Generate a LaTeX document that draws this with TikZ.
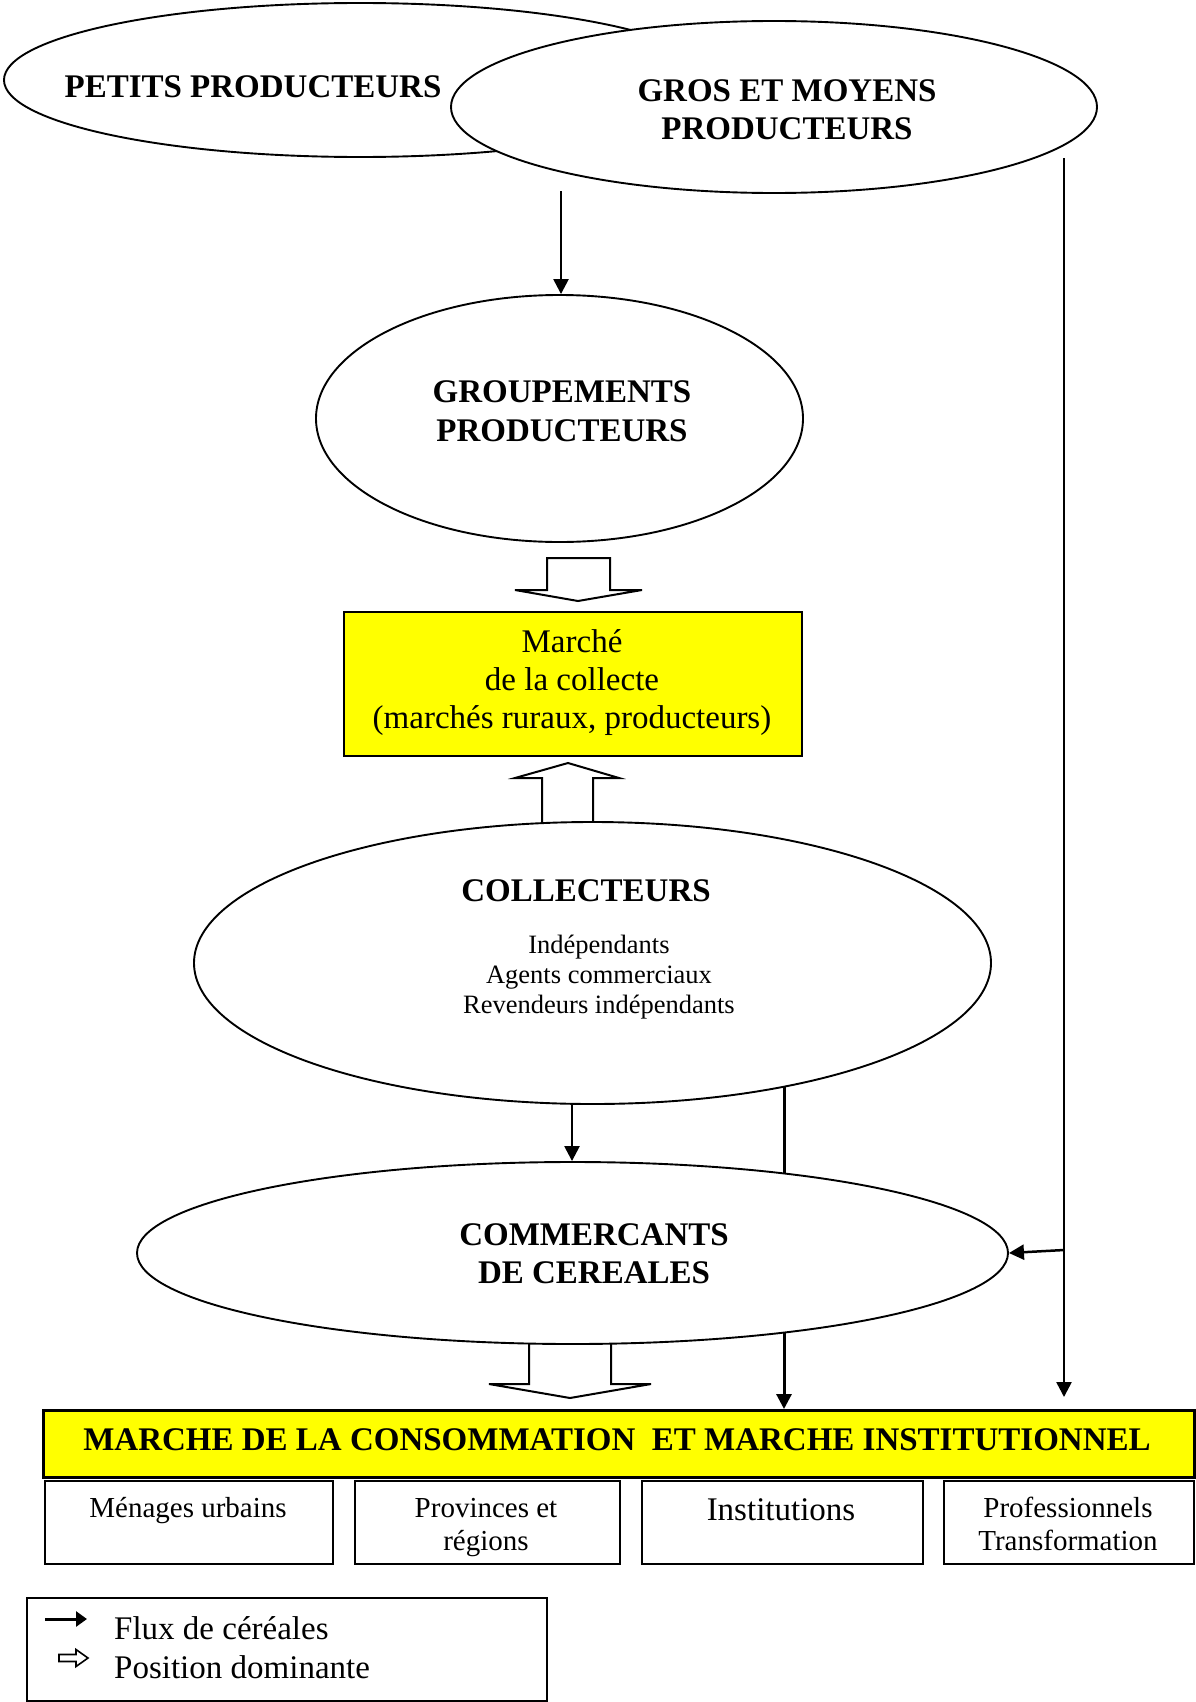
\documentclass[tikz,border=0pt]{standalone}
\usepackage{fontspec}
\setmainfont{Liberation Serif}
\usetikzlibrary{arrows.meta,shapes.geometric}
\pgfdeclarelayer{back}
\pgfdeclarelayer{bg}
\pgfsetlayers{back,bg,main}
\definecolor{yel}{RGB}{255,255,0}
\begin{document}
\begin{tikzpicture}[x=1pt,y=-1pt,
  oval/.style={draw,ellipse,fill=white,line width=1.9pt,inner sep=0pt},
  big/.style={font=\fontsize{33}{38}\selectfont\bfseries,anchor=base,inner sep=0pt},
  reg/.style={font=\fontsize{33}{38}\selectfont,anchor=base,inner sep=0pt},
  small/.style={font=\fontsize{26.5}{30}\selectfont,anchor=base,inner sep=0pt},
  subtxt/.style={font=\fontsize{29}{33}\selectfont,anchor=base,inner sep=0pt},
  flow/.style={line width=2.5pt,-{Triangle[length=15pt,width=15pt]}},
  hollow/.style={draw,fill=white,line width=2pt,line join=miter},
  box/.style={draw,line width=2.2pt,inner sep=0pt,anchor=north west}
]
\begin{pgfonlayer}{back}
\fill[white] (0,0) rectangle (1195,1702);
\end{pgfonlayer}
\useasboundingbox (0,0) rectangle (1195,1702);

% ellipses
\node[oval,minimum width=712pt,minimum height=154pt] (petits) at (360,80) {};
\node[oval,minimum width=646pt,minimum height=172pt] (gros) at (774,107) {};
\node[oval,minimum width=487pt,minimum height=247pt] (grp) at (559.5,418.5) {};
\node[oval,minimum width=797pt,minimum height=282pt] (col) at (592.5,963) {};
\node[oval,minimum width=871pt,minimum height=182pt] (comm) at (572.5,1253) {};

% boxes
\node[box,fill=yel,minimum width=458pt,minimum height=144pt] (collecte) at (343,611) {};
\node[box,fill=yel,line width=3pt,minimum width=1151pt,minimum height=67pt] (marche) at (42,1409) {};
\node[box,minimum width=288pt,minimum height=83pt] (b1) at (44,1480) {};
\node[box,minimum width=265pt,minimum height=83pt] (b2) at (354,1480) {};
\node[box,minimum width=281pt,minimum height=83pt] (b3) at (641,1480) {};
\node[box,minimum width=250pt,minimum height=83pt] (b4) at (943,1480) {};
\node[box,minimum width=520pt,minimum height=103pt] (leg) at (26,1597) {};

% texts
\node[big] (tpetits) at (253,97) {PETITS PRODUCTEURS};
\node[big] (tgros1) at (787,101) {GROS ET MOYENS};
\node[big] (tgros2) at (787,139) {PRODUCTEURS};
\node[big] (tgrp1) at (562,402) {GROUPEMENTS};
\node[big] (tgrp2) at (562,441) {PRODUCTEURS};
\node[reg] (tm1) at (572,652) {Marché};
\node[reg] (tm2) at (572,690) {de la collecte};
\node[reg] (tm3) at (572,728) {(marchés ruraux, producteurs)};
\node[big] (tcol) at (586,901) {COLLECTEURS};
\node[small] (tc1) at (599,953) {Indépendants};
\node[small] (tc2) at (599,983) {Agents commerciaux};
\node[small] (tc3) at (599,1013) {Revendeurs indépendants};
\node[big] (tcomm1) at (594,1245) {COMMERCANTS};
\node[big] (tcomm2) at (594,1283) {DE CEREALES};
\node[big] (tmarche) at (617,1450) {MARCHE DE LA CONSOMMATION\ \ ET MARCHE INSTITUTIONNEL};
\node[subtxt] (tb1) at (188,1517) {Ménages urbains};
\node[subtxt] (tb2a) at (486,1517) {Provinces et};
\node[subtxt] (tb2b) at (486,1550) {régions};
\node[reg] (tb3) at (781,1520) {Institutions};
\node[subtxt] (tb4a) at (1068,1517) {Professionnels};
\node[subtxt] (tb4b) at (1068,1550) {Transformation};
\node[reg,anchor=base west] (tflux) at (114,1639) {Flux de céréales};
\node[reg,anchor=base west] (tpos) at (114,1678) {Position dominante};

% connectors (behind the ellipses)
\begin{pgfonlayer}{bg}
\coordinate (g0) at (561,191);
\draw[flow] (g0) -- (g0 |- grp.north);
\coordinate (r0) at (1064,158);
\coordinate (rj) at (1064,1250);
\coordinate (r1) at (1064,1397);
\draw[flow] (r0) -- (r1);
\draw[flow] (rj) -- (comm.east);
\coordinate (c0) at (572,1103);
\draw[flow] (c0) -- (c0 |- comm.north);
\coordinate (c1) at (784,1086);
\draw[flow,line width=3pt] (c1) -- (c1 |- marche.north);
% dominant-position block arrows
\draw[hollow] (547,558) -- (610,558) -- (610,590) -- (642,590) -- (578,601) -- (515,590) -- (547,590) -- cycle;
\draw[hollow] (542,826) -- (542,778) -- (515,778) -- (568,763) -- (619,778) -- (593,778) -- (593,826) -- cycle;
\draw[hollow] (529,1340) -- (611,1340) -- (611,1384) -- (651,1384) -- (570,1398) -- (489,1384) -- (529,1384) -- cycle;
\end{pgfonlayer}

% legend symbols
\coordinate (la0) at (45,1619);
\coordinate (la1) at (87,1619);
\draw[line width=3pt,-{Triangle[length=11pt,width=15pt]}] (la0) -- (la1);
\draw[line width=1.6pt,line join=miter] (59,1654.5) -- (76,1654.5) -- (76,1649.5) -- (88,1658) -- (76,1666.5) -- (76,1661.5) -- (59,1661.5) -- cycle;
\end{tikzpicture}
\end{document}
